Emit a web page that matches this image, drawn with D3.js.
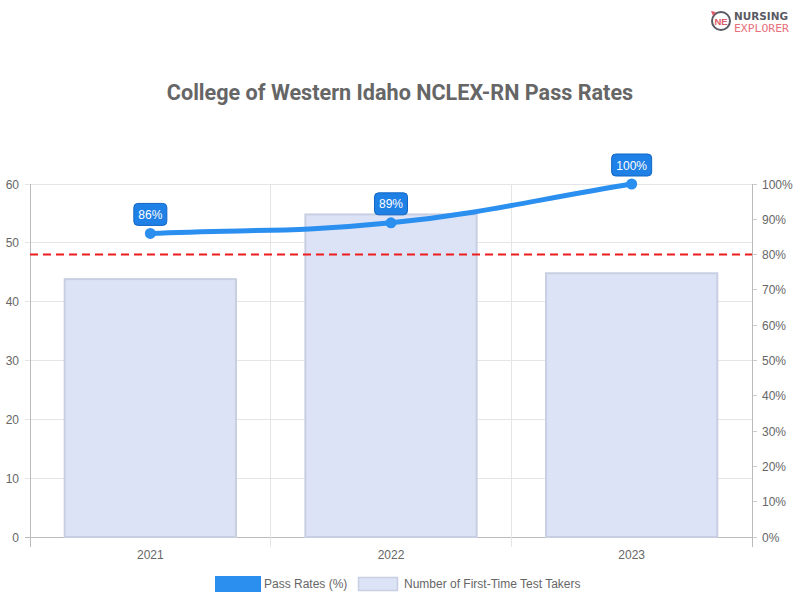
<!DOCTYPE html>
<html><head><meta charset="utf-8">
<script src="https://cdn.jsdelivr.net/npm/d3@7"></script>
<style>body{margin:0;background:#fff}svg{display:block}</style>
</head><body>
<svg id="c" width="800" height="600"></svg>
<script>
const years = ["2021","2022","2023"];
const testTakers = [44, 55, 45];
const passRates = [86, 89, 100];
const benchmark = 80;
const leftTicks = [0,10,20,30,40,50,60];
const rightTicks = [0,10,20,30,40,50,60,70,80,90,100];

const svg = d3.select("#c");
const L = 30, R = 752, T = 184, B = 537;
const font = "'Liberation Sans', Arial, sans-serif";

const x = d3.scaleBand().domain(years).range([L, R]).paddingInner(0).paddingOuter(0);
const yL = d3.scaleLinear().domain([0,60]).range([B, T]);
const yR = d3.scaleLinear().domain([0,100]).range([B, T]);

// grid horizontal
svg.append("g").selectAll("line").data(leftTicks).join("line")
  .attr("x1", L-5).attr("x2", R).attr("y1", d=>yL(d)).attr("y2", d=>yL(d))
  .attr("stroke", d=> d===0 ? "#bbb" : "#e5e5e5").attr("stroke-width",1).attr("shape-rendering","crispEdges");
// right ticks marks
svg.append("g").selectAll("line").data(rightTicks).join("line")
  .attr("x1", R).attr("x2", R+5).attr("y1", d=>yR(d)).attr("y2", d=>yR(d))
  .attr("stroke","#ccc").attr("shape-rendering","crispEdges");
// vertical grid
const vx = years.map(y=>x(y)).concat([R]);
svg.append("g").selectAll("line").data(vx).join("line")
  .attr("x1", d=>d).attr("x2", d=>d).attr("y1", T).attr("y2", B+10)
  .attr("stroke", (d,i)=> (i===0||i===vx.length-1) ? "#bbb" : "#e5e5e5").attr("shape-rendering","crispEdges");

// bars
const bw = x.bandwidth()*0.72;
svg.append("g").selectAll("rect").data(years).join("rect")
  .attr("x", (d)=>x(d)+x.bandwidth()/2-bw/2+1)
  .attr("width", bw-2)
  .attr("y", (d,i)=>yL(testTakers[i])+1)
  .attr("height", (d,i)=>B-yL(testTakers[i])-1)
  .attr("fill","#dde3f6").attr("stroke","#c9cfe2").attr("stroke-width",2);

// benchmark line
svg.append("line").attr("x1",L).attr("x2",R).attr("y1",yR(benchmark)).attr("y2",yR(benchmark))
  .attr("stroke","#ee1c1c").attr("stroke-width",2).attr("stroke-dasharray","8,5");

// line (Chart.js-style spline, tension 0.4)
const cx = d=>x(d)+x.bandwidth()/2;
const pts = passRates.map((d,i)=>({x:cx(years[i]), y:yR(d)}));
function splinePath(p, t){
  const cps = p.map((m,i)=>{
    const f = p[Math.max(0,i-1)], a = p[Math.min(p.length-1,i+1)];
    const d01 = Math.hypot(m.x-f.x, m.y-f.y), d12 = Math.hypot(a.x-m.x, a.y-m.y);
    let s01 = d01/(d01+d12), s12 = d12/(d01+d12);
    if (isNaN(s01)) s01 = 0; if (isNaN(s12)) s12 = 0;
    const fa = t*s01, fb = t*s12;
    return {px: m.x - fa*(a.x-f.x), py: m.y - fa*(a.y-f.y), nx: m.x + fb*(a.x-f.x), ny: m.y + fb*(a.y-f.y)};
  });
  let s = `M${p[0].x},${p[0].y}`;
  for (let i=1;i<p.length;i++){
    s += `C${cps[i-1].nx},${cps[i-1].ny} ${cps[i].px},${cps[i].py} ${p[i].x},${p[i].y}`;
  }
  return s;
}
svg.append("path").attr("d", splinePath(pts,0.4)).attr("fill","none")
  .attr("stroke","#2b8ff0").attr("stroke-width",5).attr("stroke-linecap","round");
svg.append("g").selectAll("circle").data(passRates).join("circle")
  .attr("cx",(d,i)=>cx(years[i])).attr("cy",d=>yR(d)).attr("r",5.5).attr("fill","#2b8ff0");

// labels
const lg = svg.append("g").selectAll("g").data(passRates).join("g")
  .attr("transform",(d,i)=>`translate(${cx(years[i])},${yR(d)-19})`);
lg.each(function(d){
  const g = d3.select(this);
  const t = d+"%";
  const w = t.length*7+12;
  g.append("rect").attr("x",-w/2).attr("y",-11).attr("width",w).attr("height",22).attr("rx",4)
   .attr("fill","#1f80e6").attr("stroke","#1266c4").attr("stroke-width",1);
  g.append("text").attr("text-anchor","middle").attr("y",4.5).attr("fill","#fff")
   .attr("font-family",font).attr("font-size",12).text(t);
});

// axis labels
svg.append("g").selectAll("text").data(leftTicks).join("text")
  .attr("x",L-11).attr("y",d=>yL(d)+4.5).attr("text-anchor","end")
  .attr("font-family",font).attr("font-size",12).attr("fill","#666").text(d=>d);
svg.append("g").selectAll("text").data(rightTicks).join("text")
  .attr("x",R+10).attr("y",d=>yR(d)+4.5).attr("text-anchor","start")
  .attr("font-family",font).attr("font-size",12).attr("fill","#666").text(d=>d+"%");
svg.append("g").selectAll("text").data(years).join("text")
  .attr("x",d=>cx(d)).attr("y",B+22).attr("text-anchor","middle")
  .attr("font-family",font).attr("font-size",12).attr("fill","#666").text(d=>d);

// title
svg.append("text").attr("x",400).attr("y",100).attr("text-anchor","middle")
  .attr("font-family","Roboto, 'Liberation Sans', sans-serif").attr("font-weight","bold").attr("font-size",21.6)
  .attr("fill","#666").text("College of Western Idaho NCLEX-RN Pass Rates");

// legend
svg.append("rect").attr("x",215).attr("y",576).attr("width",46).attr("height",16).attr("fill","#2b8ff0");
svg.append("text").attr("x",264).attr("y",588).attr("font-family",font).attr("font-size",12).attr("fill","#666").text("Pass Rates (%)");
svg.append("rect").attr("x",358.5).attr("y",577.5).attr("width",39).attr("height",13).attr("fill","#dde3f6").attr("stroke","#c9cfe2").attr("stroke-width",1.5);
svg.append("text").attr("x",404).attr("y",588).attr("font-family",font).attr("font-size",12).attr("fill","#666").text("Number of First-Time Test Takers");

// logo
const logo = svg.append("g");
logo.append("circle").attr("cx",721).attr("cy",21).attr("r",9).attr("fill","none").attr("stroke","#5a5a64").attr("stroke-width",2);
logo.append("text").attr("x",721).attr("y",24.5).attr("text-anchor","middle").attr("font-family",font).attr("font-weight","bold").attr("font-size",9.5).attr("fill","#e05a6a").text("NE");
logo.append("path").attr("d","M711,11 L716,12 L713,16 Z").attr("fill","#e05a6a");
logo.append("text").attr("x",734).attr("y",19.5).attr("font-family","'DejaVu Sans', sans-serif").attr("font-weight","bold").attr("font-size",10.5).attr("fill","#5a5a64").attr("textLength",54).attr("lengthAdjust","spacingAndGlyphs").text("NURSING");
logo.append("text").attr("x",734).attr("y",32).attr("font-family","'DejaVu Sans Mono', monospace").attr("font-size",10).attr("fill","#e76f7c").attr("textLength",55).attr("lengthAdjust","spacingAndGlyphs").text("EXPLORER");
</script>
</body></html>
